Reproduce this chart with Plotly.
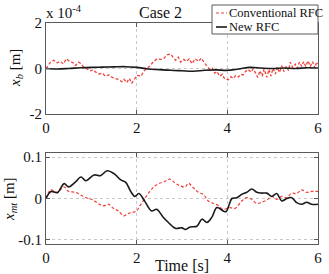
import plotly.graph_objects as go
from plotly.subplots import make_subplots

# ---- data ----
# top panel: x_b in units of 1e-4 m
t_xb_conv = [0.00, 0.10, 0.17, 0.24, 0.32, 0.38, 0.45, 0.52, 0.60, 0.65, 0.72, 0.78, 0.83, 0.91, 0.98,
             1.04, 1.09, 1.17, 1.24, 1.31, 1.39, 1.46, 1.54, 1.61, 1.67, 1.72, 1.78, 1.84, 1.89, 1.95,
             2.01, 2.10, 2.15, 2.23, 2.30, 2.37, 2.45, 2.52, 2.60, 2.67, 2.75, 2.80, 2.86, 2.92, 2.97,
             3.04, 3.10, 3.16, 3.22, 3.29, 3.37, 3.42, 3.50, 3.55, 3.61, 3.67, 3.72, 3.77, 3.83, 3.89,
             3.94, 4.02, 4.08, 4.13, 4.19, 4.24, 4.30, 4.35, 4.40, 4.46, 4.52, 4.57, 4.62, 4.67, 4.72,
             4.77, 4.81, 4.87, 4.92, 4.96, 5.01, 5.06, 5.10, 5.15, 5.20, 5.25, 5.30, 5.35, 5.39, 5.44,
             5.50, 5.54, 5.59, 5.64, 5.68, 5.73, 5.78, 5.83, 5.88, 5.93, 5.97, 6.00]
xb_conv = [0.00, 0.28, 0.36, 0.25, 0.31, 0.20, 0.43, 0.31, 0.25, 0.13, 0.28, 0.20, 0.06, -0.02, -0.10,
           -0.05, -0.15, -0.24, -0.20, -0.34, -0.28, -0.39, -0.43, -0.49, -0.58, -0.47, -0.62, -0.43, -0.65, -0.45,
           -0.30, -0.34, -0.13, 0.01, 0.12, 0.31, 0.43, 0.40, 0.44, 0.60, 0.64, 0.50, 0.36, 0.50, 0.28,
           0.40, 0.31, 0.43, 0.21, 0.43, 0.31, 0.46, 0.21, 0.10, -0.04, 0.01, -0.21, -0.13, -0.34, -0.25,
           -0.46, -0.50, -0.36, -0.44, -0.30, -0.37, -0.25, -0.28, -0.13, -0.04, -0.16, -0.01, -0.19, -0.39, -0.10,
           -0.34, -0.02, -0.39, -0.04, -0.33, 0.01, -0.24, 0.06, -0.18, 0.12, -0.13, 0.10, -0.09, 0.28, 0.04,
           0.19, 0.01, 0.28, 0.09, 0.30, 0.09, 0.34, 0.09, 0.30, 0.01, 0.28, 0.20]

t_xb_new = [0.0, 0.25, 0.5, 0.75, 1.0, 1.25, 1.5, 1.75, 2.0, 2.25, 2.5, 2.75, 3.0, 3.25, 3.5,
            3.75, 4.0, 4.25, 4.5, 4.75, 5.0, 5.25, 5.5, 5.75, 6.0]
xb_new = [0.0, -0.02, 0.0, 0.03, 0.05, 0.06, 0.07, 0.08, 0.05, -0.02, -0.05, -0.08, -0.10, -0.12, -0.08,
          -0.06, -0.08, -0.02, 0.05, 0.02, 0.0, 0.02, 0.0, 0.03, 0.02]

# bottom panel: x_mt in m
t_xmt_conv = [0.00, 0.11, 0.25, 0.40, 0.50, 0.65, 0.82, 0.93, 1.03, 1.15, 1.26, 1.38, 1.49, 1.60, 1.71,
              1.82, 1.93, 2.00, 2.07, 2.18, 2.29, 2.40, 2.51, 2.62, 2.73, 2.84, 2.95, 3.07, 3.14, 3.25,
              3.36, 3.47, 3.58, 3.70, 3.80, 3.91, 4.06, 4.17, 4.32, 4.43, 4.54, 4.65, 4.76, 4.87, 4.98,
              5.09, 5.20, 5.31, 5.42, 5.53, 5.64, 5.75, 5.86, 6.00]
xmt_conv = [0.000, 0.021, 0.015, 0.028, 0.017, 0.015, 0.005, 0.000, -0.003, -0.012, -0.018, -0.014, -0.024, -0.030, -0.042,
            -0.036, -0.033, -0.030, -0.018, 0.000, 0.017, 0.030, 0.037, 0.041, 0.047, 0.038, 0.031, 0.028, 0.037, 0.026,
            0.015, 0.010, -0.006, -0.012, -0.017, -0.026, -0.022, -0.024, -0.006, 0.002, -0.002, -0.012, -0.009, -0.004, 0.005,
            -0.002, 0.005, 0.002, 0.013, 0.012, 0.021, 0.015, 0.017, 0.017]

t_xmt_new = [0.00, 0.11, 0.25, 0.40, 0.50, 0.65, 0.77, 0.88, 1.06, 1.20, 1.35, 1.50, 1.65, 1.76, 1.87,
             1.96, 2.05, 2.18, 2.33, 2.44, 2.59, 2.70, 2.85, 3.00, 3.07, 3.18, 3.33, 3.44, 3.55, 3.66,
             3.77, 3.91, 3.97, 4.05, 4.10, 4.21, 4.32, 4.43, 4.54, 4.65, 4.76, 4.87, 4.98, 5.09, 5.20,
             5.31, 5.42, 5.53, 5.64, 5.75, 5.86, 6.00]
xmt_new = [0.000, 0.017, 0.014, 0.036, 0.028, 0.040, 0.052, 0.043, 0.057, 0.055, 0.067, 0.060, 0.045, 0.039, 0.017,
           0.005, 0.012, -0.007, -0.030, -0.026, -0.046, -0.058, -0.072, -0.071, -0.075, -0.069, -0.067, -0.050, -0.058, -0.045,
           -0.022, -0.030, -0.032, -0.012, 0.000, 0.002, 0.010, 0.015, 0.023, 0.015, 0.013, 0.013, 0.005, 0.012, -0.006,
           0.000, 0.002, -0.010, -0.014, -0.009, -0.014, -0.014]

x_ticks = [0, 2, 4, 6]
xb_ticks = [-2, 0, 2]
xmt_ticks = [-0.1, 0, 0.1]
series_names = ["Conventional RFC", "New RFC"]

# ---- style ----
RED = "#f0413a"
BLACK = "#1a1a1a"
FONT = "Liberation Serif, Times New Roman, serif"
FRAME = "#5a5a5a"

fig = make_subplots(rows=2, cols=1, vertical_spacing=39 / 221)

fig.add_trace(go.Scatter(x=t_xb_conv, y=xb_conv, mode="lines", name=series_names[0],
                         line=dict(color=RED, width=1.3, dash="3px,2px")), row=1, col=1)
fig.add_trace(go.Scatter(x=t_xb_new, y=xb_new, mode="lines", name=series_names[1],
                         line=dict(color=BLACK, width=1.6, shape="spline")), row=1, col=1)
fig.add_trace(go.Scatter(x=t_xmt_conv, y=xmt_conv, mode="lines", name=series_names[0],
                         line=dict(color=RED, width=1.2, dash="3px,2px", shape="spline")), row=2, col=1)
fig.add_trace(go.Scatter(x=t_xmt_new, y=xmt_new, mode="lines", name=series_names[1],
                         line=dict(color=BLACK, width=1.6, shape="spline")), row=2, col=1)

axis_common = dict(showline=True, linecolor=FRAME, linewidth=1, mirror="allticks",
                   ticks="inside", ticklen=4, tickcolor=FRAME,
                   showgrid=True, gridcolor="#c8c8c8", griddash="dot", gridwidth=1,
                   zeroline=False, tickfont=dict(family=FONT, size=15, color="#111"))

for r in (1, 2):
    fig.update_xaxes(range=[0, 6], tickvals=x_ticks, ticktext=[str(v) for v in x_ticks],
                     row=r, col=1, **axis_common)
fig.update_yaxes(range=[-2, 2], tickvals=xb_ticks, ticktext=["-2", "0", "2"], row=1, col=1, **axis_common)
fig.update_yaxes(range=[-0.11, 0.11], tickvals=xmt_ticks, ticktext=["-0.1", "0", "0.1"], row=2, col=1, **axis_common)
fig.update_xaxes(title=dict(text="Time [s]", standoff=0, font=dict(family=FONT, size=16, color="#111")), row=2, col=1)

W, H = 329, 274
L, R, T, B = 46, 11, 23, 30
pw, ph = W - L - R, H - T - B

def px(xp):
    return (xp - L) / pw

def py(yp):
    return (H - B - yp) / ph

annotations = [
    dict(text="<i>x</i><sub><i>b</i></sub> [m]", x=px(16), y=py(68), textangle=-90),
    dict(text="<i>x</i><sub><i>mt</i></sub> [m]", x=px(10), y=py(199), textangle=-90),
    dict(text="Case 2", x=px(160), y=py(13), size=16),
    dict(text="x 10<sup>-4</sup>", x=px(44), y=py(12), xanchor="left"),
    dict(text=series_names[0], x=px(227), y=py(13), xanchor="left", size=12.5),
    dict(text=series_names[1], x=px(227), y=py(27), xanchor="left", size=12.5),
]
ann_objs = []
for a in annotations:
    size = a.pop("size", 15)
    ann_objs.append(dict(xref="paper", yref="paper", showarrow=False,
                         font=dict(family=FONT, size=size, color="#111"),
                         xanchor=a.pop("xanchor", "center"), yanchor="middle", **a))

shapes = [
    dict(type="rect", xref="paper", yref="paper", x0=px(212), x1=px(318), y0=py(34), y1=py(5),
         line=dict(color=FRAME, width=1), fillcolor="white", layer="above"),
    dict(type="line", xref="paper", yref="paper", x0=px(216), x1=px(227), y0=py(13), y1=py(13),
         line=dict(color=RED, width=1.2, dash="3px,2px"), layer="above"),
    dict(type="line", xref="paper", yref="paper", x0=px(216), x1=px(227), y0=py(27), y1=py(27),
         line=dict(color=BLACK, width=1.6), layer="above"),
]

fig.update_layout(width=W, height=H, margin=dict(l=L, r=R, t=T, b=B, autoexpand=False),
                  paper_bgcolor="white", plot_bgcolor="white", showlegend=False,
                  font=dict(family=FONT),
                  annotations=ann_objs, shapes=shapes)

fig.write_html("out.html")
